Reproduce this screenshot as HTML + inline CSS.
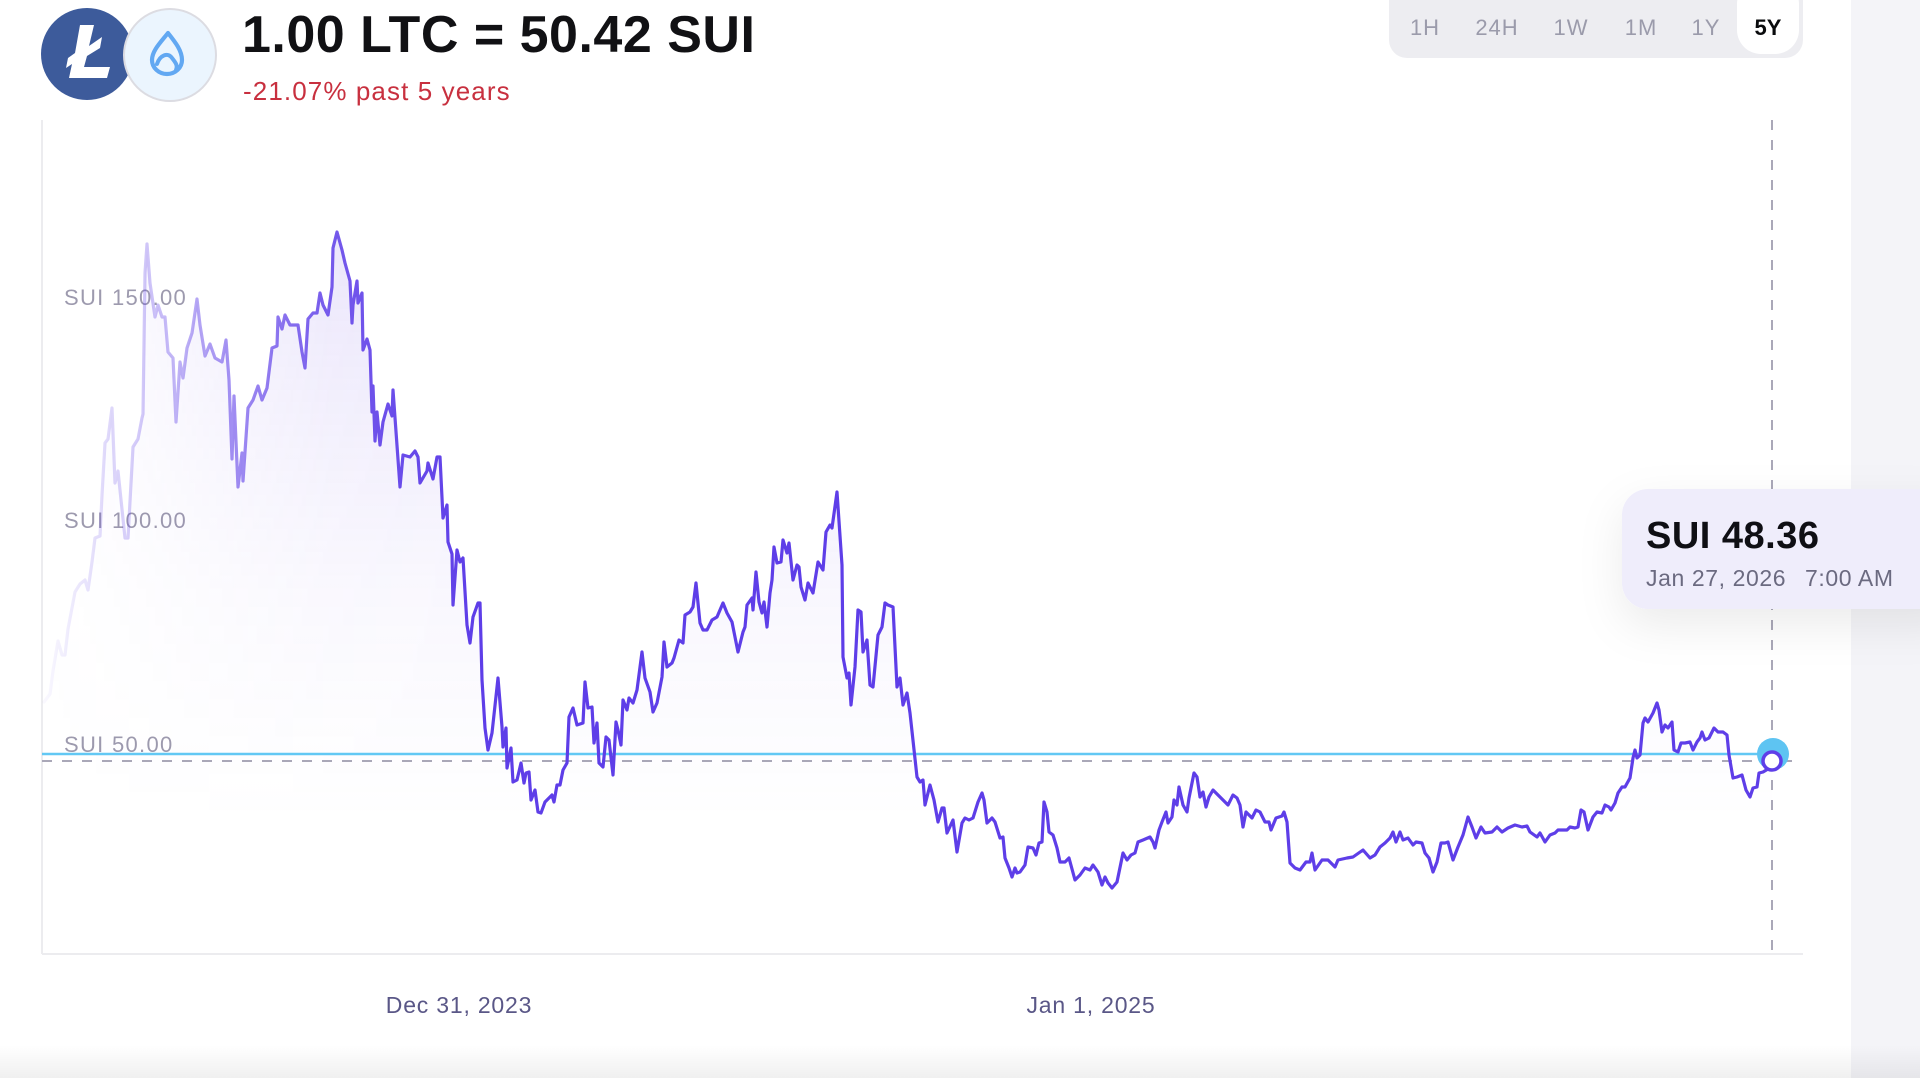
<!DOCTYPE html>
<html>
<head>
<meta charset="utf-8">
<style>
  html,body{margin:0;padding:0;background:#fff;}
  body{width:1920px;height:1078px;overflow:hidden;position:relative;}
  svg{display:block;font-family:"Liberation Sans",sans-serif;}
</style>
</head>
<body>
<svg width="1920" height="1078" viewBox="0 0 1920 1078" xmlns="http://www.w3.org/2000/svg">
  <defs>
    <linearGradient id="fadeX" gradientUnits="userSpaceOnUse" x1="42" y1="0" x2="470" y2="0">
      <stop offset="0" stop-color="#fff" stop-opacity="0.03"/>
      <stop offset="0.25" stop-color="#fff" stop-opacity="0.3"/>
      <stop offset="0.46" stop-color="#fff" stop-opacity="0.6"/>
      <stop offset="0.67" stop-color="#fff" stop-opacity="0.85"/>
      <stop offset="1" stop-color="#fff" stop-opacity="1"/>
    </linearGradient>
    <mask id="m" maskUnits="userSpaceOnUse" x="0" y="0" width="1920" height="1078">
      <rect x="0" y="0" width="1920" height="1078" fill="url(#fadeX)"/>
    </mask>
    <linearGradient id="fillY" gradientUnits="userSpaceOnUse" x1="0" y1="230" x2="0" y2="820">
      <stop offset="0" stop-color="#7a5ae6" stop-opacity="0.17"/>
      <stop offset="0.6" stop-color="#7a5ae6" stop-opacity="0.05"/>
      <stop offset="1" stop-color="#7a5ae6" stop-opacity="0"/>
    </linearGradient>
    <linearGradient id="bottomG" x1="0" y1="0" x2="0" y2="1">
      <stop offset="0" stop-color="#000" stop-opacity="0"/>
      <stop offset="1" stop-color="#000" stop-opacity="0.06"/>
    </linearGradient>
    <filter id="sh" x="-30%" y="-40%" width="160%" height="200%">
      <feDropShadow dx="0" dy="16" stdDeviation="22" flood-color="#000" flood-opacity="0.08"/>
    </filter>
  </defs>

  <!-- right panel -->
  <rect x="1851" y="0" width="69" height="1078" fill="#f4f4f8"/>

  <!-- header icons -->
  <circle cx="87" cy="54" r="46" fill="#3d5b9b"/>
  <polygon points="80,25 94,25 89,46 102,37 100,48 87,56 84,67 110,67 107,78 69,78 72,64 66,68 68,58 75,53" fill="#ffffff"/>
  <circle cx="170" cy="55" r="46" fill="#ebf5fe" stroke="#dcdce2" stroke-width="2"/>
  <path d="M168,33 C160,43 152,51 152,60 A15,14 0 0 0 182,60 C182,51 176,43 168,33 Z" fill="none" stroke="#62a8f2" stroke-width="4.2" stroke-linejoin="round"/>
  <path d="M157,64 C160,55 168,52 172,58 C176,63 178,66 176,70" fill="none" stroke="#62a8f2" stroke-width="4" stroke-linecap="round"/>

  <!-- title -->
  <text x="242" y="52" font-size="52" font-weight="bold" fill="#111114" letter-spacing="0.5">1.00 LTC = 50.42 SUI</text>
  <text x="243" y="100" font-size="26" fill="#c8303f" letter-spacing="1.1">-21.07% past 5 years</text>

  <!-- time range toggle -->
  <rect x="1389" y="-30" width="414" height="88" rx="18" fill="#ededf1"/>
  <rect x="1737" y="-20" width="62" height="74" rx="24" fill="#ffffff"/>
  <g font-size="22" fill="#9b9bab" text-anchor="middle" letter-spacing="1">
    <text x="1425" y="35">1H</text>
    <text x="1497" y="35">24H</text>
    <text x="1571" y="35">1W</text>
    <text x="1641" y="35">1M</text>
    <text x="1706" y="35">1Y</text>
  </g>
  <text x="1768" y="35" font-size="22" font-weight="bold" fill="#0a0b0d" text-anchor="middle">5Y</text>

  <!-- axes -->
  <line x1="42" y1="120" x2="42" y2="954" stroke="#ececef" stroke-width="2"/>
  <line x1="42" y1="954" x2="1803" y2="954" stroke="#ececef" stroke-width="2"/>

  <!-- y labels -->
  <g font-size="22" fill="#9d9aae" letter-spacing="1.3">
    <text x="64" y="305">SUI 150.00</text>
    <text x="64" y="528">SUI 100.00</text>
    <text x="64" y="752">SUI 50.00</text>
  </g>

  <!-- x labels -->
  <g font-size="23" fill="#5a5787" text-anchor="middle" letter-spacing="0.8">
    <text x="459" y="1013">Dec 31, 2023</text>
    <text x="1091" y="1013">Jan 1, 2025</text>
  </g>

  <!-- area + line -->
  <g mask="url(#m)">
    <path fill="url(#fillY)" d="M44,702 L50,694 53,671 58,641 62,655 65,655 68,629 75,592 80,584 85,580 88,590 92,562 95,538 100,536 102,495 105,443 108,439 112,408 115,483 118,471 125,538 128,538 133,447 138,439 142,418 143,414 145,273 147,244 150,283 155,317 158,305 162,317 165,317 168,352 173,358 176,422 180,362 183,378 187,348 192,333 197,299 200,325 205,356 210,344 215,358 222,362 226,340 229,380 232,459 234,396 238,487 242,453 243,481 248,408 253,400 258,386 262,400 267,388 272,348 277,346 278,317 282,329 285,315 290,325 298,325 302,352 305,368 308,319 313,313 317,313 320,293 323,305 328,315 332,287 333,248 337,232 342,250 345,263 350,281 352,323 353,305 357,281 358,303 362,293 363,350 367,339 370,350 372,412 373,386 375,441 377,412 380,445 383,422 388,404 392,416 393,390 400,487 403,455 410,457 415,451 418,457 420,483 427,471 428,463 433,479 437,457 440,457 443,518 447,505 448,542 452,554 453,605 457,550 460,562 463,558 467,625 470,643 473,617 478,603 480,603 482,680 485,728 488,750 492,733 498,678 502,727 503,747 506,728 507,768 511,748 513,782 517,780 521,763 524,783 526,773 529,772 531,800 535,790 538,812 541,813 545,802 552,795 554,802 557,785 560,785 563,770 567,763 569,717 573,708 577,725 583,723 585,682 588,708 592,707 594,743 597,723 599,763 603,767 606,737 609,740 613,775 616,722 618,730 621,745 623,700 627,710 629,698 633,703 637,690 642,652 645,678 650,692 653,712 657,703 662,677 664,642 667,667 672,663 674,658 679,640 683,643 685,615 690,612 693,607 696,583 700,623 703,630 707,630 712,620 717,617 723,603 727,613 732,622 738,652 743,632 745,627 747,605 752,598 753,610 756,572 759,602 762,613 764,602 767,627 770,593 772,580 774,547 777,563 781,562 783,540 787,553 789,543 793,580 797,565 799,567 801,587 805,600 808,583 813,593 818,562 823,570 826,532 830,525 832,528 837,492 842,565 843,657 847,678 849,673 851,705 855,667 858,610 861,612 863,652 867,640 870,685 873,687 878,635 882,627 885,603 888,605 893,607 897,687 900,678 903,705 907,693 910,713 917,777 920,782 923,780 925,805 930,785 934,800 938,822 942,808 944,808 947,833 953,820 957,852 962,823 965,818 969,820 973,818 978,802 982,793 984,800 987,823 992,818 995,822 1000,838 1003,837 1005,858 1009,868 1012,877 1015,868 1017,873 1020,872 1025,865 1028,847 1033,848 1036,855 1039,843 1042,842 1044,802 1047,812 1049,832 1053,835 1057,848 1060,862 1065,862 1069,858 1075,880 1080,875 1085,868 1090,870 1093,865 1098,872 1102,885 1105,877 1108,883 1112,888 1117,882 1123,853 1127,860 1131,855 1135,853 1138,842 1143,840 1150,837 1153,842 1155,848 1159,830 1162,822 1166,812 1168,823 1172,817 1174,800 1177,805 1179,787 1183,805 1187,812 1189,798 1194,773 1197,777 1200,797 1203,792 1206,807 1209,797 1213,790 1218,795 1223,800 1228,805 1233,795 1237,798 1240,805 1243,827 1246,812 1252,818 1256,810 1260,812 1265,822 1269,822 1271,830 1276,818 1282,816 1284,812 1287,822 1290,863 1295,868 1300,870 1306,862 1310,862 1312,853 1315,870 1322,860 1328,860 1335,867 1338,860 1347,858 1353,857 1363,850 1370,858 1375,855 1380,847 1385,843 1390,838 1393,832 1396,842 1400,832 1403,840 1408,838 1413,845 1416,842 1422,843 1425,853 1429,858 1433,872 1437,862 1441,843 1445,843 1448,842 1453,860 1458,847 1463,835 1468,817 1472,827 1476,838 1481,827 1485,833 1492,832 1497,827 1502,832 1508,828 1515,825 1522,827 1527,826 1530,832 1537,837 1540,833 1545,842 1550,835 1555,833 1558,830 1567,830 1570,827 1575,828 1578,827 1581,810 1584,812 1588,830 1593,817 1597,812 1602,813 1605,805 1609,807 1611,810 1615,803 1618,793 1622,787 1625,787 1630,778 1633,758 1635,750 1637,758 1640,755 1643,723 1645,718 1648,722 1653,713 1657,703 1659,710 1662,732 1665,725 1668,728 1672,722 1674,750 1678,752 1681,743 1685,743 1690,742 1693,750 1697,742 1700,738 1702,732 1705,740 1709,738 1714,728 1718,732 1723,732 1727,735 1729,755 1733,778 1737,777 1742,775 1746,790 1750,797 1753,788 1757,787 1759,773 1763,772 1768,769 1772,764 L1772,954 L44,954 Z"/>
  </g>

  <!-- reference lines -->
  <line x1="42" y1="754" x2="1772" y2="754" stroke="#62c8f4" stroke-width="2.5"/>
  <line x1="42" y1="761" x2="1792" y2="761" stroke="#aaa8b8" stroke-width="2" stroke-dasharray="10 10"/>
  <line x1="1772" y1="120" x2="1772" y2="950" stroke="#aaa8b8" stroke-width="2" stroke-dasharray="10 10"/>

  <g mask="url(#m)">
    <path fill="none" stroke="#5e3ee8" stroke-width="3.2" stroke-linejoin="round" stroke-linecap="round" d="M44,702 L50,694 53,671 58,641 62,655 65,655 68,629 75,592 80,584 85,580 88,590 92,562 95,538 100,536 102,495 105,443 108,439 112,408 115,483 118,471 125,538 128,538 133,447 138,439 142,418 143,414 145,273 147,244 150,283 155,317 158,305 162,317 165,317 168,352 173,358 176,422 180,362 183,378 187,348 192,333 197,299 200,325 205,356 210,344 215,358 222,362 226,340 229,380 232,459 234,396 238,487 242,453 243,481 248,408 253,400 258,386 262,400 267,388 272,348 277,346 278,317 282,329 285,315 290,325 298,325 302,352 305,368 308,319 313,313 317,313 320,293 323,305 328,315 332,287 333,248 337,232 342,250 345,263 350,281 352,323 353,305 357,281 358,303 362,293 363,350 367,339 370,350 372,412 373,386 375,441 377,412 380,445 383,422 388,404 392,416 393,390 400,487 403,455 410,457 415,451 418,457 420,483 427,471 428,463 433,479 437,457 440,457 443,518 447,505 448,542 452,554 453,605 457,550 460,562 463,558 467,625 470,643 473,617 478,603 480,603 482,680 485,728 488,750 492,733 498,678 502,727 503,747 506,728 507,768 511,748 513,782 517,780 521,763 524,783 526,773 529,772 531,800 535,790 538,812 541,813 545,802 552,795 554,802 557,785 560,785 563,770 567,763 569,717 573,708 577,725 583,723 585,682 588,708 592,707 594,743 597,723 599,763 603,767 606,737 609,740 613,775 616,722 618,730 621,745 623,700 627,710 629,698 633,703 637,690 642,652 645,678 650,692 653,712 657,703 662,677 664,642 667,667 672,663 674,658 679,640 683,643 685,615 690,612 693,607 696,583 700,623 703,630 707,630 712,620 717,617 723,603 727,613 732,622 738,652 743,632 745,627 747,605 752,598 753,610 756,572 759,602 762,613 764,602 767,627 770,593 772,580 774,547 777,563 781,562 783,540 787,553 789,543 793,580 797,565 799,567 801,587 805,600 808,583 813,593 818,562 823,570 826,532 830,525 832,528 837,492 842,565 843,657 847,678 849,673 851,705 855,667 858,610 861,612 863,652 867,640 870,685 873,687 878,635 882,627 885,603 888,605 893,607 897,687 900,678 903,705 907,693 910,713 917,777 920,782 923,780 925,805 930,785 934,800 938,822 942,808 944,808 947,833 953,820 957,852 962,823 965,818 969,820 973,818 978,802 982,793 984,800 987,823 992,818 995,822 1000,838 1003,837 1005,858 1009,868 1012,877 1015,868 1017,873 1020,872 1025,865 1028,847 1033,848 1036,855 1039,843 1042,842 1044,802 1047,812 1049,832 1053,835 1057,848 1060,862 1065,862 1069,858 1075,880 1080,875 1085,868 1090,870 1093,865 1098,872 1102,885 1105,877 1108,883 1112,888 1117,882 1123,853 1127,860 1131,855 1135,853 1138,842 1143,840 1150,837 1153,842 1155,848 1159,830 1162,822 1166,812 1168,823 1172,817 1174,800 1177,805 1179,787 1183,805 1187,812 1189,798 1194,773 1197,777 1200,797 1203,792 1206,807 1209,797 1213,790 1218,795 1223,800 1228,805 1233,795 1237,798 1240,805 1243,827 1246,812 1252,818 1256,810 1260,812 1265,822 1269,822 1271,830 1276,818 1282,816 1284,812 1287,822 1290,863 1295,868 1300,870 1306,862 1310,862 1312,853 1315,870 1322,860 1328,860 1335,867 1338,860 1347,858 1353,857 1363,850 1370,858 1375,855 1380,847 1385,843 1390,838 1393,832 1396,842 1400,832 1403,840 1408,838 1413,845 1416,842 1422,843 1425,853 1429,858 1433,872 1437,862 1441,843 1445,843 1448,842 1453,860 1458,847 1463,835 1468,817 1472,827 1476,838 1481,827 1485,833 1492,832 1497,827 1502,832 1508,828 1515,825 1522,827 1527,826 1530,832 1537,837 1540,833 1545,842 1550,835 1555,833 1558,830 1567,830 1570,827 1575,828 1578,827 1581,810 1584,812 1588,830 1593,817 1597,812 1602,813 1605,805 1609,807 1611,810 1615,803 1618,793 1622,787 1625,787 1630,778 1633,758 1635,750 1637,758 1640,755 1643,723 1645,718 1648,722 1653,713 1657,703 1659,710 1662,732 1665,725 1668,728 1672,722 1674,750 1678,752 1681,743 1685,743 1690,742 1693,750 1697,742 1700,738 1702,732 1705,740 1709,738 1714,728 1718,732 1723,732 1727,735 1729,755 1733,778 1737,777 1742,775 1746,790 1750,797 1753,788 1757,787 1759,773 1763,772 1768,769 1772,764"/>
  </g>

  <!-- current point marker -->
  <circle cx="1773" cy="754" r="16" fill="#5ec4f2"/>
  <circle cx="1772" cy="761" r="9" fill="#ffffff" stroke="#5e3ee8" stroke-width="3.5"/>

  <!-- tooltip -->
  <rect x="1622" y="489" width="340" height="120" rx="26" fill="#efedfb" filter="url(#sh)"/>
  <text x="1646" y="548" font-size="38" font-weight="bold" fill="#0f0f14" letter-spacing="0.5">SUI 48.36</text>
  <text x="1646" y="586" font-size="23" fill="#6b6a80" letter-spacing="0.6">Jan 27, 2026</text>
  <text x="1805" y="586" font-size="23" fill="#6b6a80" letter-spacing="0.6">7:00 AM</text>

  <!-- bottom fade -->
  <rect x="0" y="1045" width="1920" height="33" fill="url(#bottomG)"/>
</svg>
</body>
</html>
